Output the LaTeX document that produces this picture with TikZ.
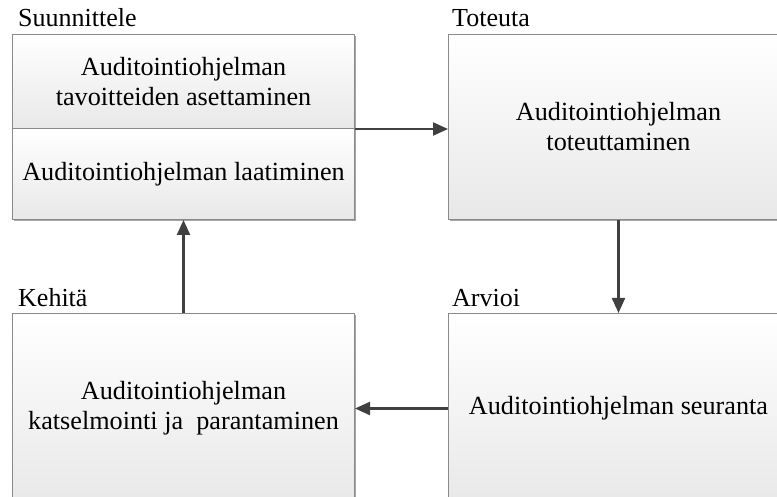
\documentclass[tikz,border=0pt]{standalone}
\usepackage{fontspec}
\setmainfont{Liberation Serif}
\usetikzlibrary{arrows.meta,shadows}
\definecolor{edge}{HTML}{8A8A8A}
\definecolor{arrowgray}{HTML}{404040}
\tikzset{
  box/.style={draw=edge, line width=1pt, rectangle, anchor=north west,
    top color=white, bottom color=black!9, align=center, inner sep=0pt,
    font=\fontsize{26.2}{30}\selectfont,
    general shadow={shadow xshift=1.5pt, shadow yshift=-1.5pt, fill=black!35}},
  phase/.style={anchor=base west, inner sep=0pt, font=\fontsize{26}{30}\selectfont},
  flow/.style={draw=arrowgray, line width=2.2pt, -{Triangle[length=15pt,width=13pt]}}
}
\begin{document}
\begin{tikzpicture}[x=1pt,y=1pt]
  \useasboundingbox (0,0) rectangle (777,-497);
  \clip (0,0) rectangle (777,-497);
  \fill[white] (0,0) rectangle (777,-497);

  % phase boxes
  \node[box, minimum width=342pt, minimum height=94pt] (goals) at (12,-34)
    {Auditointiohjelman\\tavoitteiden asettaminen};
  \node[box, minimum width=342pt, minimum height=91pt] (prep) at (12,-128)
    {Auditointiohjelman laatiminen};
  \node[box, minimum width=340pt, minimum height=185pt] (impl) at (448,-34)
    {Auditointiohjelman\\toteuttaminen};
  \node[box, minimum width=340pt, minimum height=190pt] (mon) at (448,-313)
    {Auditointiohjelman seuranta};
  \node[box, minimum width=342pt, minimum height=190pt] (rev) at (12,-313)
    {Auditointiohjelman\\katselmointi ja~~parantaminen};

  % phase titles
  \node[phase] (t1) at (18,-27) {Suunnittele};
  \node[phase] (t2) at (452,-27) {Toteuta};
  \node[phase] (t3) at (452,-306.5) {Arvioi};
  \node[phase] (t4) at (18,-306.5) {Kehitä};

  % cycle connectors
  \draw[flow] (goals.south east) -- (goals.south east -| impl.west);
  \draw[flow] (impl.south) -- (impl.south |- mon.north);
  \draw[flow] (mon.west |- rev.east) -- (rev.east);
  \draw[flow] (rev.north) -- (prep.south);
\end{tikzpicture}
\end{document}
